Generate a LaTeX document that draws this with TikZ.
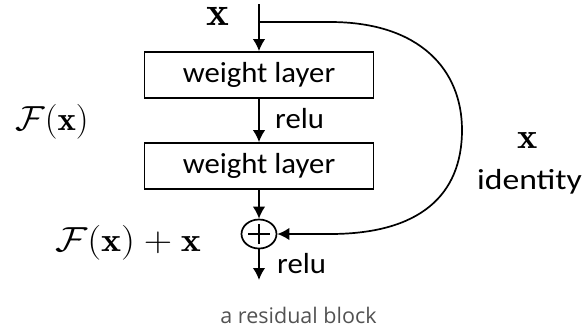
\documentclass[tikz,border=0pt]{standalone}
\usepackage{fontspec}
\usepackage{amsmath}
\newfontfamily\calibrifont{Carlito}
\newfontfamily\capfont{Open Sans}
\usetikzlibrary{arrows.meta,shapes.geometric}
\newcommand{\sx}[2][1.06]{\scalebox{#1}[1]{#2}}
% math set at 24pt then scaled
\newcommand{\bigmath}[3]{\scalebox{#1}[#2]{\fontsize{24}{28}\selectfont$#3$}}
\begin{document}
\begin{tikzpicture}[x=1pt,y=-1pt,
  layerbox/.style={draw,line width=1.7pt,minimum width=229pt,minimum height=46pt,inner sep=0pt,
    font=\fontsize{29}{32}\selectfont\calibrifont},
  arr/.style={line width=1.7pt,-{Latex[length=12pt,width=12.5pt]}},
  lbl/.style={font=\fontsize{29}{32}\selectfont\calibrifont,inner sep=0pt},
  mathlbl/.style={inner sep=0pt},
  sumnode/.style={draw,line width=1.7pt,ellipse,minimum width=35pt,minimum height=29pt,inner sep=0pt,
    path picture={\draw[line width=1.7pt] ([xshift=-11pt]path picture bounding box.center) -- ([xshift=11pt]path picture bounding box.center);
      \draw[line width=1.7pt] ([yshift=-10pt]path picture bounding box.center) -- ([yshift=10pt]path picture bounding box.center);}}
]
\useasboundingbox (0,0) rectangle (584,330);
\coordinate (top) at (259,4);
\coordinate (split) at (259,22);
\coordinate (out) at (259,280);
\node[layerbox] (b1) at (259,75) {\sx{weight layer}};
\node[layerbox] (b2) at (259,166) {\sx{weight layer}};
\node[sumnode] (plus) at (259,234) {};
\draw[arr] (top) -- (b1);
\draw[arr] (b1) -- (b2);
\draw[arr] (b2) -- (plus);
\draw[arr] (plus) -- (out);
\draw[arr] (split) -- (330,22) .. controls (420,22) and (462,70) .. (462,130)
  .. controls (462,195) and (420,234) .. (330,234) -- (plus);
\node[mathlbl,anchor=base] (xtop) at (217.5,25) {\bigmath{1.8}{1.7}{\mathbf{x}}};
\node[mathlbl] (fx) at (52,122) {\bigmath{1.45}{1.4}{\mathcal{F}(\mathbf{x})}};
\node[mathlbl] (fxx) at (128,242.5) {\bigmath{1.58}{1.4}{\mathcal{F}(\mathbf{x})+\mathbf{x}}};
\node[mathlbl,anchor=base] (xr) at (527.5,148) {\bigmath{1.6}{1.5}{\mathbf{x}}};
\node[lbl,anchor=base west] (relu1) at (275,128) {\sx{relu}};
\node[lbl,anchor=base west] (relu2) at (277,273) {\sx{relu}};
\node[lbl,anchor=base] (ident) at (529.5,189) {\sx[1.16]{identity}};
\node[font=\fontsize{21.5}{24}\selectfont\capfont,text=black!68,inner sep=0pt,anchor=base] (cap) at (298.5,323) {a residual block};
\end{tikzpicture}
\end{document}
